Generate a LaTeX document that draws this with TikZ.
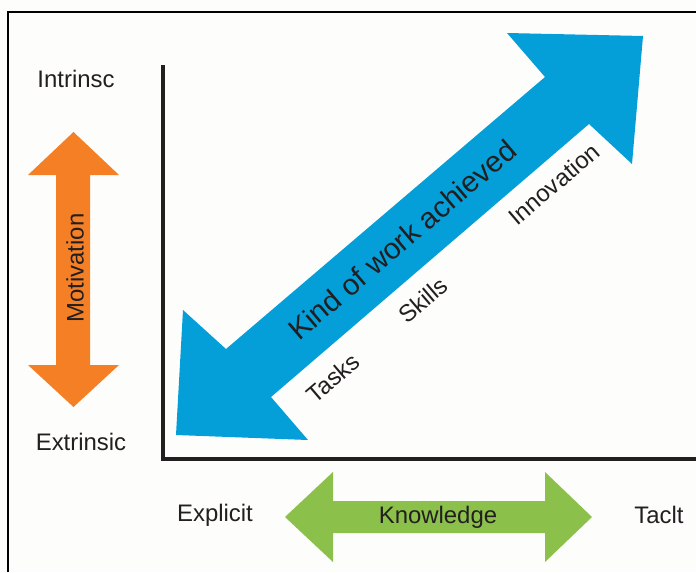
\documentclass[tikz,border=0pt]{standalone}
\usepackage{fontspec}
\setsansfont{Liberation Sans}
\usepackage{xcolor}
\usetikzlibrary{positioning}
\definecolor{Canvas}{HTML}{FDFDFB}
\definecolor{Ink}{HTML}{231F20}
\definecolor{WorkBlue}{HTML}{049FD9}
\definecolor{MotOrange}{HTML}{F47F24}
\definecolor{KnowGreen}{HTML}{8BC04B}

\begin{document}
\begin{tikzpicture}[x=0.025cm,y=-0.025cm,font=\sffamily,axisline/.style={draw=Ink, line width=2.6pt},frameline/.style={draw=black, line width=0.8pt},bigarrow/.style={draw=none},labeltext/.style={text=Ink, font=\sffamily\fontsize{17}{20}\selectfont, inner sep=0pt},bandtext/.style={text=Ink, font=\sffamily\fontsize{21}{24}\selectfont, inner sep=0pt}]
\useasboundingbox (0,0) rectangle (696,572);
\fill[Canvas] (0,0) rectangle (696,572);
\draw[frameline] (8,572) -- (8,12) -- (696,12);
% axes
\draw[axisline] (163,65) -- (163,459) -- (696,459);
% kind of work arrow
\fill[WorkBlue] (176,435) -- (183,310) -- (226,349) -- (545,77) -- (507,33) -- (643,36) -- (632,164) -- (589,124) -- (271,397) -- (308,440) -- cycle;
\node[bandtext, rotate=40.5] (work) at (402,240) {Kind of work achieved};
\node[labeltext, rotate=40.5] (tasks) at (333,378) {Tasks};
\node[labeltext, rotate=40.5] (skills) at (423,300) {Skills};
\node[labeltext, rotate=40.5] (innov) at (554,184) {Innovation};
% motivation arrow
\fill[MotOrange] (73.5,132) -- (119,175) -- (90,175) -- (90,365) -- (119,365) -- (73.5,407) -- (28,365) -- (56,365) -- (56,175) -- (28,175) -- cycle;
\node[labeltext, rotate=90] (motiv) at (75,268) {Motivation};
\node[labeltext] (intr) at (76,79) {Intrinsc};
\node[labeltext] (extr) at (81,442) {Extrinsic};
% knowledge arrow
\fill[KnowGreen] (285,517) -- (333,472) -- (333,501) -- (545,501) -- (545,472) -- (592,517) -- (545,562) -- (545,533) -- (333,533) -- (333,562) -- cycle;
\node[labeltext] (know) at (438,517) {Knowledge};
\node[labeltext] (expl) at (215,515) {Explicit};
\node[labeltext] (tacit) at (659,515) {Taclt};
\end{tikzpicture}
\end{document}
